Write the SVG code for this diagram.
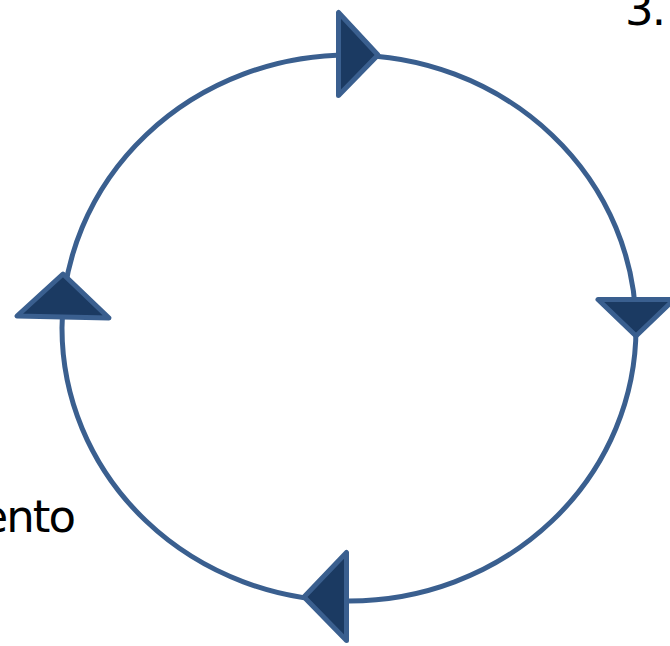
<svg xmlns="http://www.w3.org/2000/svg" width="670" height="646" viewBox="0 0 670 646">
<style>
.ring{fill:none;stroke:#3a5f8f;stroke-width:5}
.head{fill:#1b3a62;stroke:#3a5f8f;stroke-width:5;stroke-linejoin:round}
.lbl{font-family:"DejaVu Sans","Liberation Sans",sans-serif;font-size:45px;fill:#000;letter-spacing:-2px}
</style>
<rect width="670" height="646" fill="#fff"/>
<g id="connectors">
<ellipse class="ring" cx="349" cy="328" rx="287" ry="273"/>
<polygon class="head" points="338.5,12.5 338.5,95.5 378,55"/>
<polygon class="head" points="598,299.5 674,299.5 636,336"/>
<polygon class="head" points="346.5,552.5 346.5,640.5 304,597"/>
<polygon class="head" points="17,316 109,318 63,274"/>
</g>
<g id="node-3"><text class="lbl" x="625" y="25">3.</text></g>
<g id="node-ento"><text class="lbl" x="74" y="532" text-anchor="end">ento</text></g>
</svg>
